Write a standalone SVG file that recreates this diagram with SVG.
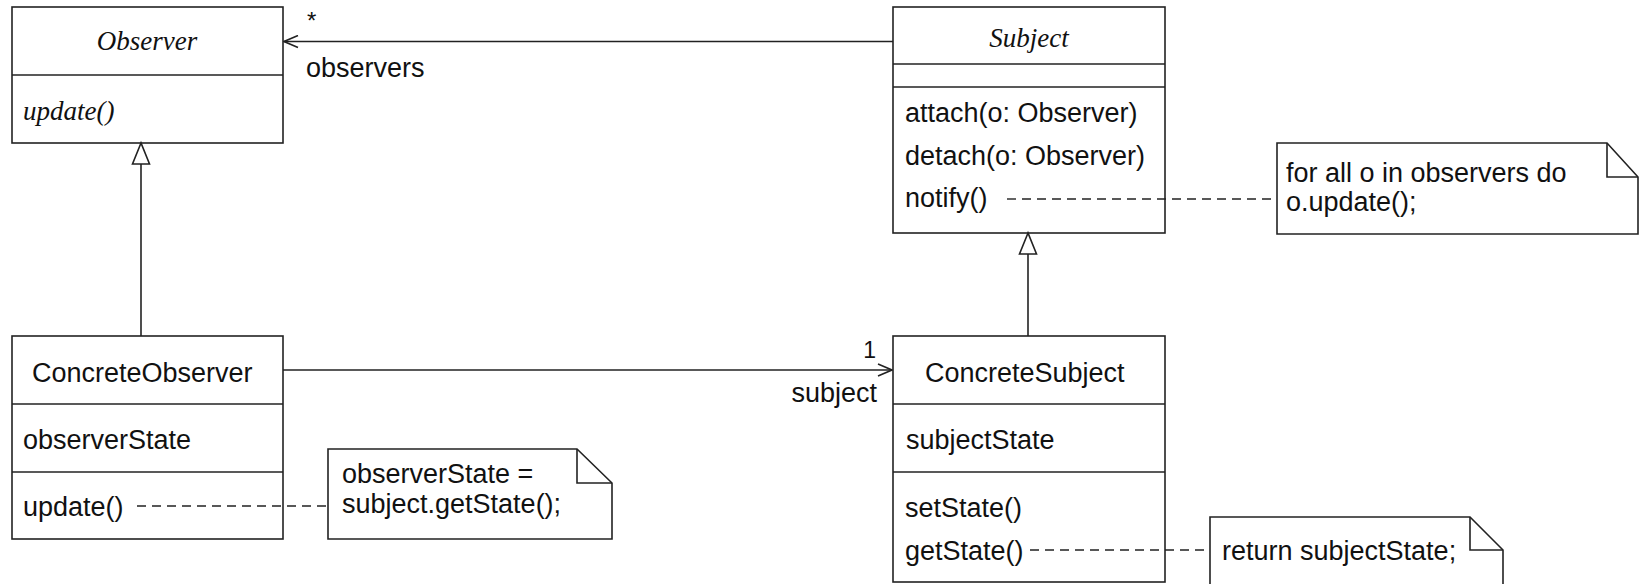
<svg xmlns="http://www.w3.org/2000/svg" width="1640" height="584" viewBox="0 0 1640 584">
<style>
.box{fill:#fff;stroke:#222;stroke-width:1.6}
.ln{fill:none;stroke:#222;stroke-width:1.6}
.dash{fill:none;stroke:#222;stroke-width:1.4;stroke-dasharray:9 6}
.t{font-family:"Liberation Sans",Arial,sans-serif;font-size:27px;fill:#111}
.it{font-family:"Liberation Serif","Times New Roman",serif;font-style:italic;font-size:27px;fill:#111}
</style>
<defs>
<marker id="open" markerWidth="16" markerHeight="14" refX="15" refY="7" orient="auto" markerUnits="userSpaceOnUse">
<path d="M1,1 L15,7 L1,13" fill="none" stroke="#222" stroke-width="1.6"/>
</marker>
</defs>
<rect width="1640" height="584" fill="#fff"/>
<g id="Observer">
<rect class="box" x="12" y="7" width="271" height="136"/>
<line class="ln" x1="12" y1="75" x2="283" y2="75"/>
<text class="it" x="147" y="50" text-anchor="middle">Observer</text>
<text class="it" x="23" y="120">update()</text>
</g>
<g id="Subject">
<rect class="box" x="893" y="7" width="272" height="226"/>
<line class="ln" x1="893" y1="64" x2="1165" y2="64"/>
<line class="ln" x1="893" y1="87" x2="1165" y2="87"/>
<text class="it" x="1029" y="47" text-anchor="middle">Subject</text>
<text class="t" x="905" y="122">attach(o: Observer)</text>
<text class="t" x="905" y="165">detach(o: Observer)</text>
<text class="t" x="905" y="207">notify()</text>
</g>
<g id="ConcreteObserver">
<rect class="box" x="12" y="336" width="271" height="203"/>
<line class="ln" x1="12" y1="404" x2="283" y2="404"/>
<line class="ln" x1="12" y1="472" x2="283" y2="472"/>
<text class="t" x="32" y="382">ConcreteObserver</text>
<text class="t" x="23" y="449">observerState</text>
<text class="t" x="23" y="516">update()</text>
</g>
<g id="ConcreteSubject">
<rect class="box" x="893" y="336" width="272" height="246"/>
<line class="ln" x1="893" y1="404" x2="1165" y2="404"/>
<line class="ln" x1="893" y1="472" x2="1165" y2="472"/>
<text class="t" x="925" y="382">ConcreteSubject</text>
<text class="t" x="906" y="449">subjectState</text>
<text class="t" x="905" y="517">setState()</text>
<text class="t" x="905" y="560">getState()</text>
</g>
<g id="note-notify">
<path class="box" d="M1277,143 L1607,143 L1638,177 L1638,234 L1277,234 Z"/>
<path class="ln" d="M1607,143 L1607,177 L1638,177"/>
<text class="t" x="1286" y="182">for all o in observers do</text>
<text class="t" x="1286" y="211">o.update();</text>
</g>
<g id="note-update">
<path class="box" d="M328,449 L577,449 L612,483 L612,539 L328,539 Z"/>
<path class="ln" d="M577,449 L577,483 L612,483"/>
<text class="t" x="342" y="483">observerState =</text>
<text class="t" x="342" y="513">subject.getState();</text>
</g>
<g id="note-getState">
<path class="box" d="M1210,517 L1470,517 L1503,550 L1503,590 L1210,590 Z"/>
<path class="ln" d="M1470,517 L1470,550 L1503,550"/>
<text class="t" x="1222" y="560">return subjectState;</text>
</g>
<g id="connectors">
<line class="ln" x1="893" y1="41.5" x2="284" y2="41.5" marker-end="url(#open)"/>
<line class="ln" x1="283" y1="370" x2="892" y2="370" marker-end="url(#open)"/>
<line class="ln" x1="141" y1="336" x2="141" y2="164"/>
<path class="ln" d="M141,143 L132.5,164 L149.5,164 Z" fill="#fff"/>
<line class="ln" x1="1028" y1="336" x2="1028" y2="254"/>
<path class="ln" d="M1028,233 L1019.5,254 L1036.5,254 Z" fill="#fff"/>
<line class="dash" x1="1007" y1="199" x2="1277" y2="199"/>
<line class="dash" x1="137" y1="506" x2="328" y2="506"/>
<line class="dash" x1="1030" y1="550" x2="1210" y2="550"/>
<text class="t" x="307" y="29" style="font-size:24px">*</text>
<text class="t" x="306" y="77">observers</text>
<text class="t" x="876" y="358" text-anchor="end" style="font-size:23px">1</text>
<text class="t" x="877" y="402" text-anchor="end">subject</text>
</g>
</svg>
